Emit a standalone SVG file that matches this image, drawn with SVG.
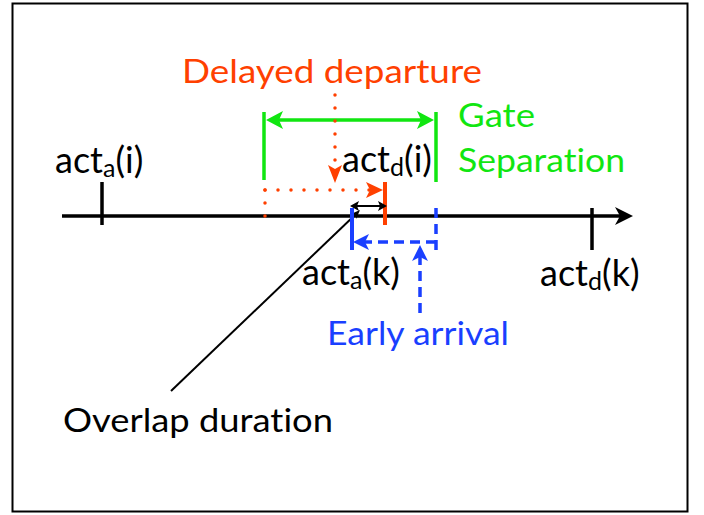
<svg xmlns="http://www.w3.org/2000/svg" width="704" height="515" viewBox="0 0 704 515">
<style>
text{font-family:Lato,"Open Sans","Liberation Sans",sans-serif;font-size:33px;font-variant-ligatures:none}
.k{fill:#000}.r{fill:#FF4000}.g{fill:#11E611}.b{fill:#1A3FFF}
.act{font-size:36px}
.sub{font-size:25px}
.ax{stroke:#000;stroke-width:3.5;fill:none}
.gl{stroke:#11E611;stroke-width:3.5;fill:none}
.rd{stroke:#FF4000;stroke-width:3.5;fill:none;stroke-dasharray:0 13;stroke-linecap:round}
.rs{stroke:#FF4000;stroke-width:4;fill:none}
.bs{stroke:#1A3FFF;stroke-width:4;fill:none}
.bd{stroke:#1A3FFF;stroke-width:3.5;fill:none;stroke-dasharray:10 6}
</style>
<rect x="12.5" y="3.5" width="675" height="508" fill="#fff" stroke="#000" stroke-width="2"/>
<g id="connectors">
  <line class="ax" x1="62" y1="216" x2="622" y2="216"/>
  <polygon points="633,216 615,207 620,216 615,225" fill="#000"/>
  <line class="ax" x1="102" y1="182" x2="102" y2="225"/>
  <line class="ax" x1="592" y1="208" x2="592" y2="250"/>
  <line class="gl" x1="264" y1="112" x2="264" y2="180"/>
  <line class="gl" x1="436" y1="112" x2="436" y2="182"/>
  <line class="gl" x1="276" y1="120" x2="424" y2="120"/>
  <polygon points="266,120 283,111 279,120 283,129" fill="#11E611"/>
  <polygon points="434,120 417,111 421,120 417,129" fill="#11E611"/>
  <line class="rd" x1="335" y1="95" x2="335" y2="170"/>
  <polygon points="335,183 328,165 335,169 342,165" fill="#FF4000"/>
  <line class="rd" x1="265" y1="190" x2="370" y2="190"/>
  <polygon points="383,190 366,182 370,190 366,198" fill="#FF4000"/>
  <line class="rd" x1="265" y1="190" x2="265" y2="221" stroke-dasharray="0 15.5"/>
  <line class="rs" x1="385" y1="182" x2="385" y2="225"/>
  <line stroke="#000" stroke-width="2" x1="356" y1="206" x2="380" y2="206"/>
  <polygon points="350,206 359,201 357,206 359,211" fill="#000"/>
  <polygon points="387,206 378,201 380,206 378,211" fill="#000"/>
  <line stroke="#000" stroke-width="2" x1="171" y1="391" x2="356" y2="214"/>
  <polygon points="360,210 351,214 356,215 356,219" fill="#000"/>
  <line class="bs" x1="352" y1="208" x2="352" y2="250"/>
  <line class="bd" x1="436" y1="208" x2="436" y2="250"/>
  <line class="bd" x1="436" y1="242" x2="364" y2="242"/>
  <polygon points="353,242 369,234 365,242 369,250" fill="#1A3FFF"/>
  <line class="bd" x1="420" y1="313" x2="420" y2="256"/>
  <polygon points="420,245 412,261 420,257 428,261" fill="#1A3FFF"/>
</g>
<g id="delayed-departure"><text class="r" x="182" y="83" textLength="300" lengthAdjust="spacingAndGlyphs">Delayed departure</text></g>
<g id="gate-separation">
  <text class="g" x="458" y="127" textLength="77" lengthAdjust="spacingAndGlyphs">Gate</text>
  <text class="g" x="458" y="172" textLength="167" lengthAdjust="spacingAndGlyphs">Separation</text>
</g>
<g id="early-arrival"><text class="b" x="327" y="345" textLength="182" lengthAdjust="spacingAndGlyphs">Early arrival</text></g>
<g id="overlap-duration"><text class="k" x="63" y="432" textLength="270" lengthAdjust="spacingAndGlyphs">Overlap duration</text></g>
<g id="act-a-i"><text class="k act" x="55" y="173">act<tspan class="sub" dy="4">a</tspan><tspan dy="-4">(i)</tspan></text></g>
<g id="act-d-i"><text class="k act" x="342" y="172">act<tspan class="sub" dy="4">d</tspan><tspan dy="-4">(i)</tspan></text></g>
<g id="act-a-k"><text class="k act" x="302" y="285">act<tspan class="sub" dy="4">a</tspan><tspan dy="-4">(k)</tspan></text></g>
<g id="act-d-k"><text class="k act" x="540" y="286">act<tspan class="sub" dy="4">d</tspan><tspan dy="-4">(k)</tspan></text></g>
</svg>
